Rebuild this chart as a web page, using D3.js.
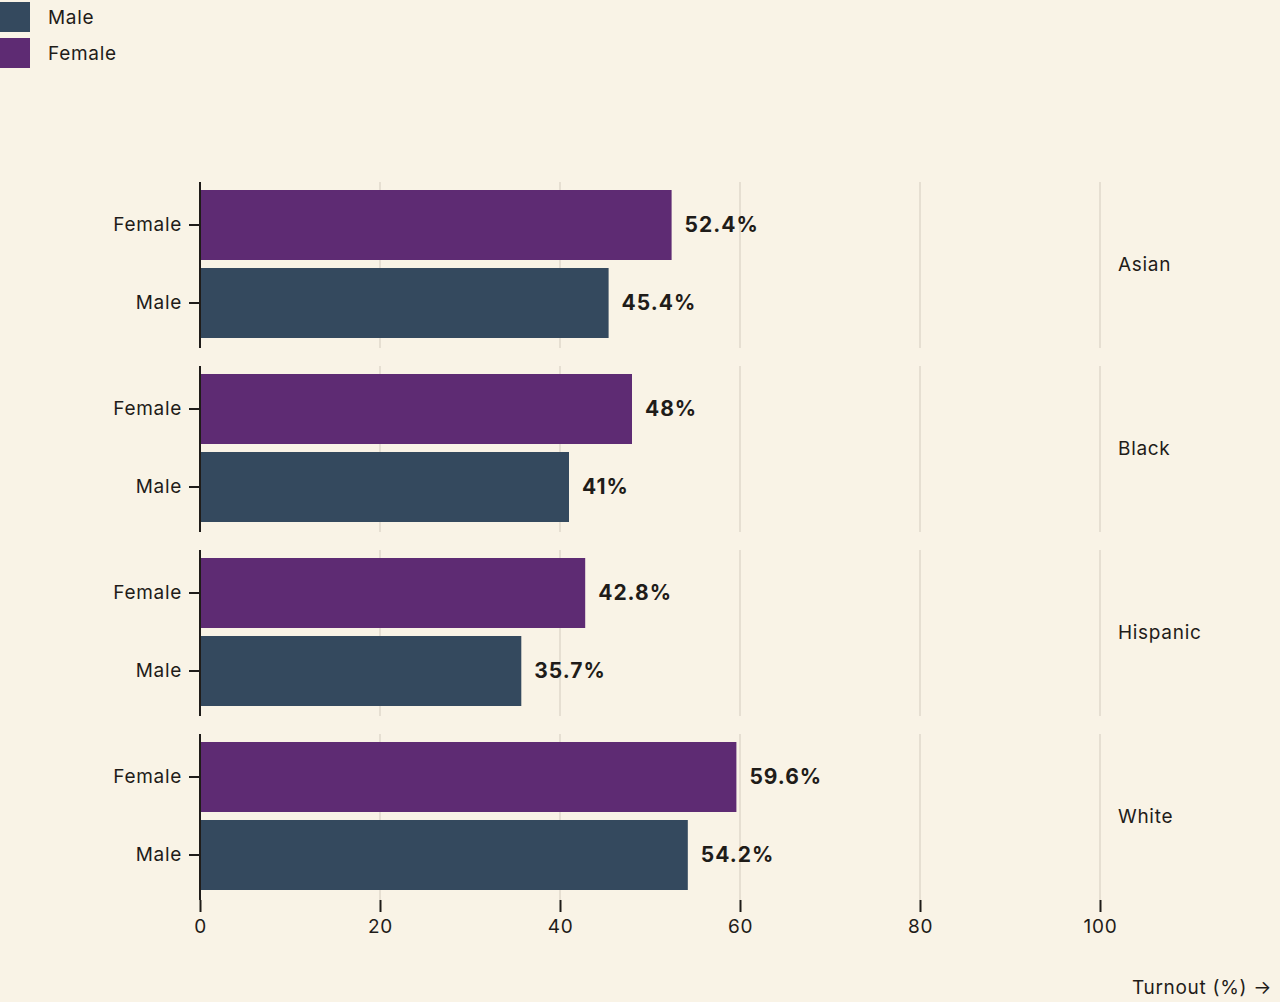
<!DOCTYPE html>
<html><head><meta charset="utf-8">
<script src="https://cdn.jsdelivr.net/npm/d3@7"></script>
<style>
html,body{margin:0;padding:0;background:#f9f3e6;}
svg{display:block;font-family:Inter, "Noto Sans", sans-serif;}
</style></head>
<body><svg id="c" width="1280" height="1002"></svg>
<script>
const groups = ["Asian","Black","Hispanic","White"];
const sexes = ["Female","Male"];
const femaleValues = [52.4, 48, 42.8, 59.6];
const maleValues = [45.4, 41, 35.7, 54.2];
const xTicks = [0,20,40,60,80,100];
const legendItems = ["Male","Female"];

const colors = {Male:"#34495e", Female:"#5e2b73"};
const bg = "#f9f3e6", ink = "#1f1c19", grid = "#e6dfd2";
const FS = 19, LS = "0.7px";

const data = [];
groups.forEach((g,i)=>{
  data.push({group:g, sex:"Female", value:femaleValues[i]});
  data.push({group:g, sex:"Male", value:maleValues[i]});
});

const svg = d3.select("#c");
svg.append("rect").attr("width",1280).attr("height",1002).attr("fill",bg);

const x = d3.scaleLinear().domain([0,100]).range([200,1100]);
const fy = d3.scaleBand().domain(groups).range([182,900]).paddingInner(18/184).paddingOuter(0);
const facetH = 166;
const y = d3.scaleBand().domain(sexes).range([0,164]).paddingInner(8/78).paddingOuter(8/78);

// legend
const leg = svg.append("g");
legendItems.forEach((k,i)=>{
  leg.append("rect").attr("x",0).attr("y",2+i*36).attr("width",30).attr("height",30).attr("fill",colors[k]);
  leg.append("text").attr("x",48).attr("y",17+i*36).attr("dy","0.35em")
    .attr("font-size",FS).attr("letter-spacing",LS).attr("fill",ink).text(k);
});

groups.forEach(g=>{
  const top = fy(g);
  const f = svg.append("g").attr("transform",`translate(0,${top})`);
  f.selectAll("line.grid").data(xTicks.slice(1)).join("line")
    .attr("x1",d=>x(d)).attr("x2",d=>x(d)).attr("y1",0).attr("y2",facetH)
    .attr("stroke",grid).attr("stroke-width",2);
  const rows = data.filter(d=>d.group===g);
  f.selectAll("rect.bar").data(rows).join("rect")
    .attr("x",x(0)).attr("y",d=>y(d.sex))
    .attr("width",d=>x(d.value)-x(0)).attr("height",y.bandwidth())
    .attr("fill",d=>colors[d.sex]);
  f.selectAll("text.val").data(rows).join("text")
    .attr("x",d=>x(d.value)+13).attr("y",d=>y(d.sex)+y.bandwidth()/2).attr("dy","0.35em")
    .attr("font-size",21).attr("font-weight",700).attr("letter-spacing","1px").attr("fill",ink)
    .text(d=>d.value+"%");
  const ya = f.append("g").attr("transform",`translate(${x(0)},0)`)
    .call(d3.axisLeft(y).tickSize(11).tickPadding(7));
  ya.select(".domain").remove();
  ya.selectAll(".tick line").attr("stroke",ink).attr("stroke-width",2);
  ya.selectAll(".tick text").attr("font-size",FS).attr("letter-spacing",LS).attr("fill",ink).attr("font-family","Inter, sans-serif");
  f.append("line").attr("x1",x(0)).attr("x2",x(0)).attr("y1",0).attr("y2",facetH)
    .attr("stroke",ink).attr("stroke-width",2);
  f.append("text").attr("x",1118).attr("y",facetH/2-1).attr("dy","0.35em")
    .attr("font-size",FS).attr("letter-spacing",LS).attr("fill",ink).text(g);
});

const xa = svg.append("g").attr("transform","translate(0,900)")
  .call(d3.axisBottom(x).tickValues(xTicks).tickSize(12).tickPadding(8));
xa.select(".domain").remove();
xa.selectAll(".tick line").attr("stroke",ink).attr("stroke-width",2);
xa.selectAll(".tick text").attr("font-size",FS).attr("letter-spacing",LS).attr("fill",ink).attr("font-family","Inter, sans-serif");

svg.append("text").attr("x",1272).attr("y",987).attr("dy","0.35em").attr("text-anchor","end")
  .attr("font-size",FS).attr("letter-spacing",LS).attr("fill",ink).text("Turnout (%) →");
</script></body></html>
